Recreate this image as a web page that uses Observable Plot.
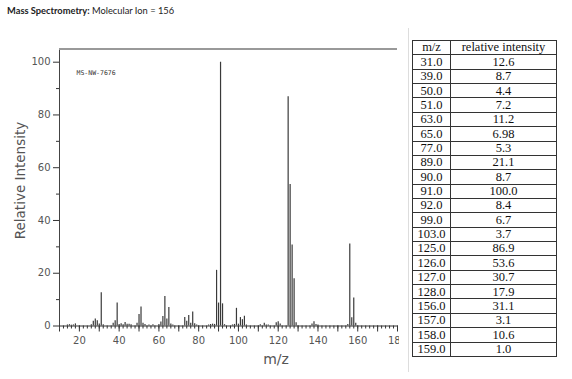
<!DOCTYPE html>
<html>
<head>
<meta charset="utf-8">
<script src="https://cdn.jsdelivr.net/npm/d3@7"></script>
<script src="https://cdn.jsdelivr.net/npm/@observablehq/plot@0.6"></script>
<style>
  html, body { margin: 0; padding: 0; background: #fff; }
  #page { position: relative; width: 572px; height: 379px; overflow: hidden; background: #fff; }
  #title { position: absolute; left: 7px; top: 5px; font-family: Lato, sans-serif; font-size: 9.3px; color: #222; white-space: nowrap; }
  #title b { font-weight: 700; }
  #chart { position: absolute; left: 0; top: 20px; }
  #sep { position: absolute; left: 408px; top: 28px; width: 0; height: 344px; border-left: 1px solid #ddd; }
  #tbl { position: absolute; left: 412px; top: 40px; width: 145px; box-sizing: border-box; border: 1px solid #333; border-bottom: none;
         font-family: "Liberation Serif", "Times New Roman", serif; font-size: 12.5px; color: #111; }
  .row { display: flex; height: 14.36px; box-sizing: border-box; border-bottom: 1px solid #333; }
  .cell { display: flex; align-items: center; justify-content: center; line-height: 1; white-space: nowrap; }
  .c1 { width: 37px; border-right: 1px solid #333; }
  .c2 { flex: 1; }
</style>
</head>
<body>
<div id="page">
  <div id="title"><b>Mass Spectrometry:</b> Molecular Ion = 156</div>
  <div id="chart"></div>
  <div id="sep"></div>
  <div id="tbl"></div>
</div>
<script>
// Spectrum peaks (m/z and relative intensity)
const peakMz = [14, 15, 16, 17, 18, 26, 27, 28, 29, 30, 31, 32, 37, 38, 39, 40, 41, 42, 43, 44, 45, 46, 49, 50, 51, 52, 53, 55, 57, 60, 61, 62, 63, 64, 65, 66, 67, 73, 74, 75, 76, 77, 78, 79, 85, 86, 87, 88, 89, 90, 91, 92, 93, 97, 98, 99, 100, 101, 102, 103, 104, 111, 113, 114, 115, 119, 120, 121, 125, 126, 127, 128, 129, 137, 138, 139, 140, 155, 156, 157, 158, 159];
const peakIntensity = [0.4, 0.5, 0.3, 0.4, 0.8, 0.5, 1.8, 2.7, 2.0, 0.8, 12.6, 0.5, 1.0, 2.0, 8.7, 0.6, 0.9, 0.5, 1.3, 0.7, 0.7, 0.5, 1.0, 4.4, 7.2, 1.0, 0.6, 0.4, 0.5, 0.6, 1.5, 3.6, 11.2, 2.7, 6.98, 0.8, 0.4, 3.2, 1.8, 4.0, 1.0, 5.3, 0.9, 0.4, 0.4, 0.6, 0.7, 0.6, 21.1, 8.7, 100, 8.4, 0.5, 0.4, 0.6, 6.7, 0.7, 3.2, 2.4, 3.7, 0.4, 0.5, 1.0, 0.4, 0.4, 1.2, 1.6, 0.8, 86.9, 53.6, 30.7, 17.9, 1.2, 0.8, 1.6, 0.6, 0.4, 0.6, 31.1, 3.1, 10.6, 1.0];

// Table values
const tableHeader = ["m/z", "relative intensity"];
const tableMz = ["31.0", "39.0", "50.0", "51.0", "63.0", "65.0", "77.0", "89.0", "90.0", "91.0", "92.0", "99.0", "103.0", "125.0", "126.0", "127.0", "128.0", "156.0", "157.0", "158.0", "159.0"];
const tableIntensity = ["12.6", "8.7", "4.4", "7.2", "11.2", "6.98", "5.3", "21.1", "8.7", "100.0", "8.4", "6.7", "3.7", "86.9", "53.6", "30.7", "17.9", "31.1", "3.1", "10.6", "1.0"];

// Axis ticks
const xLabelTicks = [20, 40, 60, 80, 100, 120, 140, 160, 180];
const yLabelTicks = [0, 20, 40, 60, 80, 100];
const yMinorTicks = [10, 30, 50, 70, 90];
const xDomain = [10, 180];
const yDomain = [0, 105];

const peaks = peakMz.map((m, i) => ({mz: m, v: peakIntensity[i]}));

const axisColor = "#555";
const chart = Plot.plot({
  width: 399,
  height: 359,
  marginLeft: 59,
  marginRight: 2,
  marginTop: 28.5,
  marginBottom: 53.5,
  style: {overflow: "hidden", fontFamily: "'DejaVu Sans', Verdana, sans-serif", color: axisColor, background: "#fff"},
  x: {domain: xDomain},
  y: {domain: yDomain},
  marks: [
    Plot.axisX({ticks: d3.range(10, 181, 2), tickSize: 3, tickFormat: () => "", stroke: "#333", label: null}),
    Plot.axisX({ticks: d3.range(10, 181, 10), tickSize: 6, tickFormat: () => "", stroke: "#333", label: null}),
    Plot.axisX({ticks: xLabelTicks, tickSize: 0, tickPadding: 11, fontSize: 10, fill: axisColor, label: null}),
    Plot.axisY({ticks: yMinorTicks, tickSize: 3, tickFormat: () => "", stroke: "#333", label: null}),
    Plot.axisY({ticks: yLabelTicks, tickSize: 6, tickPadding: 3, fontSize: 10, fill: axisColor, stroke: "#333", label: null}),
    Plot.ruleX([xDomain[0]], {y1: -1.5, y2: yDomain[1], stroke: "#444", strokeWidth: 1}),
    Plot.ruleY([yDomain[1]], {stroke: "#999", strokeWidth: 2}),
    Plot.ruleY([0], {stroke: "#333", strokeWidth: 1}),
    Plot.ruleX(peaks, {x: "mz", y1: 0, y2: "v", stroke: "#3a3a3a", strokeWidth: 1.2}),
    Plot.text(["MS-NW-7676"], {frameAnchor: "top-left", dx: 17, dy: 21.5, lineAnchor: "top", textAnchor: "start", fontSize: 6.5, fontFamily: "'DejaVu Sans Mono', monospace", fill: "#333"}),
    Plot.text(["Relative Intensity"], {frameAnchor: "left", dx: -39, dy: -7, rotate: -90, textAnchor: "middle", lineAnchor: "middle", fontSize: 13.5, fill: axisColor}),
    Plot.text(["m/z"], {frameAnchor: "bottom", dx: 47.5, dy: 33.5, textAnchor: "middle", lineAnchor: "middle", fontSize: 14, fill: axisColor, letterSpacing: 1})
  ]
});
document.getElementById("chart").appendChild(chart);

// table
const tbl = document.getElementById("tbl");
function addRow(a, b) {
  const r = document.createElement("div"); r.className = "row";
  const c1 = document.createElement("div"); c1.className = "cell c1"; c1.textContent = a;
  const c2 = document.createElement("div"); c2.className = "cell c2"; c2.textContent = b;
  r.appendChild(c1); r.appendChild(c2); tbl.appendChild(r);
}
addRow(tableHeader[0], tableHeader[1]);
tableMz.forEach((m, i) => addRow(m, tableIntensity[i]));
</script>
</body>
</html>
